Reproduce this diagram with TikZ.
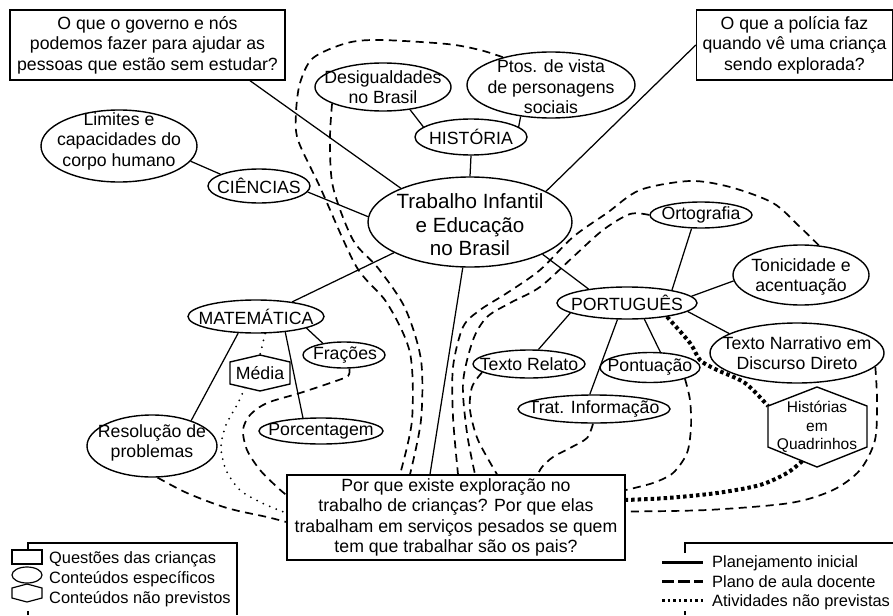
\documentclass[tikz,border=0pt]{standalone}
\usepackage{fontspec}
\setmainfont{Liberation Sans}
\usetikzlibrary{shapes.geometric,calc}
\begin{document}
\begin{tikzpicture}[x=1pt,y=-1pt,
  txt/.style={font=\fontsize{17.7}{20.5}\selectfont, align=center, inner sep=0pt},
  ell/.style n args={2}{draw, ellipse, line width=1.4pt, inner sep=0pt, minimum width=#1, minimum height=#2},
  qbox/.style={draw, rectangle, line width=1.4pt, inner sep=0pt, font=\fontsize{17.7}{20.5}\selectfont, align=center},
  link/.style={line width=1.25pt},
  plano/.style={line width=1.7pt, dash pattern=on 8pt off 5.5pt},
  ativ/.style={line width=4pt, dash pattern=on 3.5pt off 3pt},
  naoprev/.style={line width=2pt, dash pattern=on 0pt off 7pt, line cap=round},
  hexa/.style={line width=1.4pt},
  legtxt/.style={font=\fontsize{16.4}{20}\selectfont, inner sep=0pt, anchor=base west}
]
\useasboundingbox (0,0) rectangle (893,615);

% question boxes
\node[qbox, minimum width=275pt, minimum height=70pt] (q1) at (147.5,45) {O que o governo e nós\\podemos fazer para ajudar as\\pessoas que estão sem estudar?};
\node[qbox, minimum width=196pt, minimum height=70pt] (q2) at (794.5,45) {O que a polícia faz\\quando vê uma criança\\sendo explorada?};
\node[qbox, minimum width=338pt, minimum height=85pt] (q3) at (456,517.5) {Por que existe exploração no\\trabalho de crianças? Por que elas\\trabalham em serviços pesados se quem\\tem que trabalhar são os pais?};

% ellipses
\node[ell={204pt}{90pt}] (central) at (470,222) {};
\node[txt, font=\fontsize{20.6}{23.5}\selectfont] (centralT) at (470,225) {Trabalho Infantil\\e Educação\\no Brasil};
\node[ell={136pt}{48pt}] (desig) at (383,87) {};
\node[txt] (desigT) at (383,87) {Desigualdades\\no Brasil};
\node[ell={168pt}{66pt}] (ptos) at (551,85) {};
\node[txt] (ptosT) at (551,87) {Ptos. de vista\\de personagens\\sociais};
\node[ell={112pt}{36pt}] (hist) at (471,137) {};
\node[txt] (histT) at (471,137) {HISTÓRIA};
\node[ell={102pt}{34pt}] (cien) at (259,186) {};
\node[txt] (cienT) at (259,186) {CIÊNCIAS};
\node[ell={156pt}{72pt}] (lim) at (119,146) {};
\node[txt] (limT) at (119,141) {Limites e\\capacidades do\\corpo humano};
\node[ell={136pt}{33pt}] (mat) at (256,316.5) {};
\node[txt] (matT) at (256,316.5) {MATEMÁTICA};
\node[ell={82pt}{26pt}] (frac) at (344,355) {};
\node[txt] (fracT) at (345,355) {Frações};
\node[ell={124pt}{26pt}] (porc) at (321,431) {};
\node[txt] (porcT) at (321,431) {Porcentagem};
\node[ell={130pt}{62pt}] (resol) at (152,446) {};
\node[txt] (resolT) at (152,443) {Resolução de\\problemas};
\node[ell={140pt}{32pt}] (port) at (627,303) {};
\node[txt] (portT) at (627,303) {PORTUGUÊS};
\node[ell={102pt}{26pt}] (orto) at (701,215) {};
\node[txt] (ortoT) at (701,215) {Ortografia};
\node[ell={136pt}{60pt}] (toni) at (801,275) {};
\node[txt] (toniT) at (801,277) {Tonicidade e\\acentuação};
\node[ell={174pt}{60pt}] (narr) at (797,353) {};
\node[txt] (narrT) at (797,353) {Texto Narrativo em\\Discurso Direto};
\node[ell={112pt}{28pt}] (relato) at (529,364) {};
\node[txt] (relatoT) at (529,364) {Texto Relato};
\node[ell={100pt}{30pt}] (pont) at (650,367.5) {};
\node[txt] (pontT) at (650,367.5) {Pontuação};
\node[ell={152pt}{28pt}] (trat) at (594,409) {};
\node[txt] (tratT) at (594,409) {Trat. Informação};

% hexagons
\coordinate (medT) at (260,355); \coordinate (medUR) at (290,362);
\coordinate (medLR) at (290,384); \coordinate (medB) at (260,391);
\coordinate (medLL) at (230,384); \coordinate (medUL) at (230,362);
\draw[hexa] (medT) -- (medUR) -- (medLR) -- (medB) -- (medLL) -- (medUL) -- cycle;
\node[txt] (media) at (260,373) {Média};
\coordinate (hqT) at (817,387); \coordinate (hqUR) at (867,406);
\coordinate (hqLR) at (867,447); \coordinate (hqB) at (817,467);
\coordinate (hqLL) at (768,447); \coordinate (hqUL) at (768,406);
\draw[hexa] (hqT) -- (hqUR) -- (hqLR) -- (hqB) -- (hqLL) -- (hqUL) -- cycle;
\node[txt, font=\fontsize{15.5}{18.5}\selectfont] (hq) at (817,427) {Histórias\\em\\Quadrinhos};

% solid links
\draw[link] ([xshift=102.5pt]q1.south) -- (central.154);
\draw[link] (q2.west) -- (central.22);
\draw[link] (hist.south) -- (central.north);
\draw[link] (hist.168) -- (desig.320);
\draw[link] (hist.12) -- (ptos.226);
\draw[link] (cien.163) -- (lim.348);
\draw[link] (cien.353) -- (central.177);
\draw[link] (central.202) -- (mat.22);
\draw[link] (mat.223) -- (resol.33);
\draw[link] (mat.332) -- (porc.144);
\draw[link] (mat.347) -- (frac.151);
\draw[link] (central.261) -- ([xshift=-26pt]q3.north);
\draw[link] (central.336) -- (port.160);
\draw[link] (port.16) -- (orto.235);
\draw[link] (port.6) -- (toni.185);
\draw[link] (port.352) -- (narr.164);
\draw[link] (port.190) -- (relato.57);
\draw[link] (port.240) -- (trat.106);
\draw[link] (port.317) -- (pont.56);

% end points on q3
\coordinate (q3m) at ([xshift=-56pt]q3.north);
\coordinate (q3l) at ([xshift=-46pt]q3.north);
\coordinate (q3b) at ([xshift=2pt]q3.north);
\coordinate (q3c) at ([xshift=19pt]q3.north);
\coordinate (q3d) at ([xshift=41pt]q3.north);
\coordinate (q3e) at ([xshift=82pt]q3.north);
\coordinate (q3f) at ([yshift=27.5pt]q3.east);
\coordinate (q3h) at ([yshift=17.5pt]q3.east);
\coordinate (q3g) at ([yshift=6pt]q3.east);
\coordinate (q3j) at ([yshift=22.5pt]q3.west);
\coordinate (q3k) at ([yshift=4.5pt]q3.west);
\coordinate (q3i) at ([yshift=-4.5pt]q3.west);
\coordinate (hqBL) at ($(hqB)!0.3!(hqLL)$);
\coordinate (medBL) at ($(medB)!0.5!(medLL)$);

% plano de aula docente (dashed)
\draw[plano] plot[smooth] coordinates {(ptos.150) (480,50) (447,44) (380,40) (347,43) (313,58) (300,83) (296,113) (298,140) (320,187) (356,266) (387,303) (410,353) (412,420) (q3m)};
\draw[plano] plot[smooth] coordinates {(desig.198) (330,140) (333,187) (353,240) (378,268) (405,308) (421,360) (421,420) (q3l)};
\draw[plano] plot[smooth] coordinates {(toni.59) (800,227) (773,203) (730,187) (690,181) (640,190) (607,213) (573,237) (540,270) (507,293) (480,310) (463,327) (453,367) (453,417) (q3b)};
\draw[plano] plot[smooth] coordinates {(orto.west) (630,214) (603,230) (573,257) (540,287) (510,303) (487,317) (473,340) (463,383) (467,433) (q3c)};
\draw[plano] plot[smooth] coordinates {(relato.190) (472,387) (470,410) (478,440) (q3d)};
\draw[plano] plot[smooth] coordinates {(trat.266) (587,438) (570,448) (553,457) (542,467) (q3e)};
\draw[plano] plot[smooth] coordinates {(pont.342) (690,400) (691,427) (687,453) (673,473) (653,483) (q3f)};
\draw[plano] plot[smooth] coordinates {(narr.350) (877,400) (875,440) (860,470) (833,490) (790,503) (707,510) (q3g)};
\draw[plano] plot[smooth] coordinates {(resol.280) (187,493) (227,508) (267,517) (q3i)};
\draw[plano] plot[smooth] coordinates {(frac.292) (348,376) (333,382) (300,393) (267,403) (250,415) (243,430) (247,450) (260,470) (277,487) (q3j)};

% atividades nao previstas (thick dotted)
\draw[ativ] plot[smooth] coordinates {(port.341) (690,343) (700,360) (715,369) (745,383) (hqUL)};
\draw[ativ] plot[smooth] coordinates {(hqBL) (787,473) (760,485) (717,493) (667,498) (q3h)};

% conteudo nao previsto (thin dotted)
\draw[naoprev] (mat.298) -- (medT);
\draw[naoprev] plot[smooth] coordinates {(medBL) (237,405) (226,425) (221,447) (226,470) (240,490) (262,503) (q3k)};

% legend left
\draw[line width=1.2pt] (28,550) -- (28,543) -- (237,543) -- (237,615);
\draw[line width=1.2pt] (28,611) -- (28,615);
\draw[line width=1.2pt, fill=white] (12,550) rectangle (42,564);
\draw[line width=1.2pt, fill=white] (27,575) ellipse (15 and 8);
\draw[line width=1.2pt, fill=white] (27,584) -- (42,588) -- (42,598) -- (27,602) -- (12,598) -- (12,588) -- cycle;
\node[legtxt] (leg1) at (49,563) {Questões das crianças};
\node[legtxt] (leg2) at (49,583) {Conteúdos específicos};
\node[legtxt] (leg3) at (49,603) {Conteúdos não previstos};

% legend right
\draw[line width=1.2pt] (685,553) -- (685,543) -- (893,543);
\draw[line width=1.2pt] (685,611) -- (685,615);
\draw[line width=3pt] (662,562) -- (703,562);
\draw[line width=3pt, dash pattern=on 12pt off 4pt] (662,581) -- (703,581);
\draw[line width=3pt, dash pattern=on 2.5pt off 3pt] (662,600) -- (703,600);
\node[legtxt] (leg4) at (712,567) {Planejamento inicial};
\node[legtxt] (leg5) at (712,587) {Plano de aula docente};
\node[legtxt] (leg6) at (712,606) {Atividades não previstas};
\end{tikzpicture}
\end{document}
